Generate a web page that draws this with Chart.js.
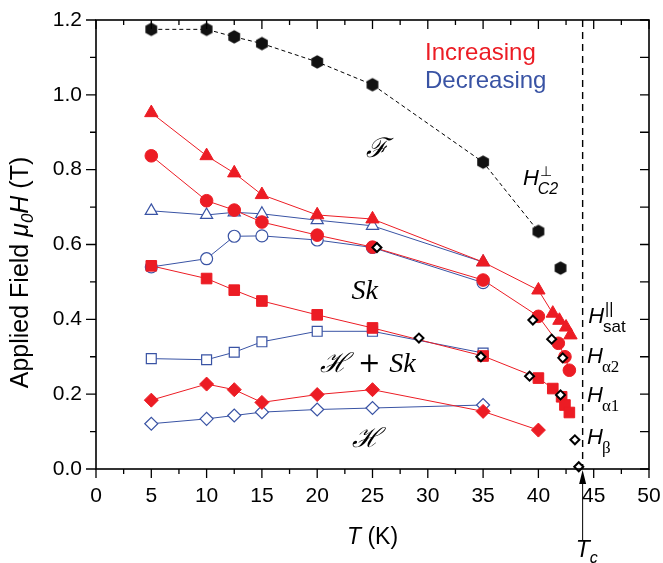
<!DOCTYPE html>
<html>
<head>
<meta charset="utf-8">
<script src="https://cdn.jsdelivr.net/npm/chart.js"></script>
<style>
  html, body { margin: 0; padding: 0; background: #fff; }
</style>
</head>
<body>
<canvas id="myChart" width="663" height="563"></canvas>
<script>
// ---- data (T in K, field in T) ----
const xTicks = [0, 5, 10, 15, 20, 25, 30, 35, 40, 45, 50];
const yTicks = [0.0, 0.2, 0.4, 0.6, 0.8, 1.0, 1.2];

const hc2T = [5, 10, 12.5, 15, 20, 25, 35, 40];
const hc2H = [1.175, 1.175, 1.155, 1.137, 1.088, 1.027, 0.820, 0.635];
const hc2ExtraT = [42];
const hc2ExtraH = [0.537];

const satIncT = [5, 10, 12.5, 15, 20, 25, 35, 40, 41.3, 41.9, 42.5, 42.9];
const satIncH = [0.952, 0.837, 0.791, 0.733, 0.679, 0.668, 0.553, 0.478, 0.416, 0.397, 0.379, 0.358];
const satDecT = [5, 10, 12.5, 15, 20, 25, 35];
const satDecH = [0.690, 0.679, 0.686, 0.682, 0.665, 0.650, 0.553];

const a2IncT = [5, 10, 12.5, 15, 20, 25, 35, 40, 41.8, 42.4, 42.8];
const a2IncH = [0.837, 0.717, 0.692, 0.660, 0.625, 0.593, 0.505, 0.408, 0.336, 0.300, 0.264];
const a2DecT = [5, 10, 12.5, 15, 20, 25, 35];
const a2DecH = [0.540, 0.562, 0.622, 0.623, 0.612, 0.592, 0.498];

const a1IncT = [5, 10, 12.5, 15, 20, 25, 35, 40, 41.3, 42.1, 42.4, 42.8];
const a1IncH = [0.543, 0.509, 0.478, 0.449, 0.412, 0.377, 0.302, 0.243, 0.215, 0.193, 0.171, 0.151];
const a1DecT = [5, 10, 12.5, 15, 20, 25, 35];
const a1DecH = [0.295, 0.292, 0.312, 0.340, 0.368, 0.368, 0.310];

const bIncT = [5, 10, 12.5, 15, 20, 25, 35, 40];
const bIncH = [0.184, 0.227, 0.212, 0.178, 0.199, 0.212, 0.154, 0.104];
const bDecT = [5, 10, 12.5, 15, 20, 25, 35];
const bDecH = [0.121, 0.134, 0.143, 0.152, 0.159, 0.163, 0.171];

const otherT = [25.4, 29.2, 34.8, 39.5, 41.2, 42.2, 39.2, 42.0, 43.3, 43.65];
const otherH = [0.592, 0.350, 0.300, 0.398, 0.347, 0.297, 0.248, 0.198, 0.078, 0.006];

const Tc = 44;

const red = '#ec1c24', blue = '#3953a4';
const sans = '"Liberation Sans", Arial, sans-serif';
const serif = '"Liberation Serif", "Times New Roman", serif';

function pts(xs, ys) { return xs.map((x, i) => ({ x: x, y: ys[i] })); }

function hexagon(r, color) {
  const s = Math.ceil(2 * r + 2);
  const c = document.createElement('canvas');
  c.width = s; c.height = s;
  const g = c.getContext('2d');
  g.beginPath();
  for (let i = 0; i < 6; i++) {
    const a = Math.PI / 3 * i - Math.PI / 2;
    const px = s / 2 + r * Math.cos(a), py = s / 2 + r * Math.sin(a);
    if (i) g.lineTo(px, py); else g.moveTo(px, py);
  }
  g.closePath();
  g.fillStyle = color;
  g.fill();
  return c;
}
const hex = hexagon(6.8, '#111');

function redSet(xs, ys, style, r) {
  return { data: pts(xs, ys), showLine: true, borderColor: red, borderWidth: 1,
    pointStyle: style, pointRadius: r, pointBackgroundColor: red, pointBorderColor: red,
    pointBorderWidth: 1, order: 2 };
}
function blueSet(xs, ys, style, r) {
  return { data: pts(xs, ys), showLine: true, borderColor: blue, borderWidth: 1,
    pointStyle: style, pointRadius: r, pointBackgroundColor: '#fff', pointBorderColor: blue,
    pointBorderWidth: 1.2, order: 3 };
}

function rich(ctx, x, y, parts) {
  let cx = x;
  parts.forEach(p => {
    ctx.font = p[1];
    ctx.fillText(p[0], cx, y + (p[2] || 0));
    cx += ctx.measureText(p[0]).width;
  });
  return cx - x;
}

const decorations = {
  id: 'decorations',
  beforeDatasetsDraw(chart) {
    const ctx = chart.ctx, a = chart.chartArea, xs = chart.scales.x;
    const px = xs.getPixelForValue(Tc);
    ctx.save();
    ctx.strokeStyle = '#000';
    ctx.lineWidth = 1.4;
    ctx.setLineDash([7, 5]);
    ctx.beginPath(); ctx.moveTo(px, a.top); ctx.lineTo(px, a.bottom); ctx.stroke();
    ctx.restore();
  },
  afterDraw(chart) {
    const ctx = chart.ctx, a = chart.chartArea, xs = chart.scales.x, ys = chart.scales.y;
    const X = v => xs.getPixelForValue(v), Y = v => ys.getPixelForValue(v);
    ctx.save();
    ctx.strokeStyle = '#000';
    ctx.fillStyle = '#000';
    ctx.lineWidth = 1.3;
    ctx.setLineDash([]);
    ctx.beginPath();
    for (let k = 0; k <= 20; k++) {
      const t = k * 2.5, p = X(t), L = k % 2 === 0 ? 9 : 5;
      ctx.moveTo(p, a.bottom); ctx.lineTo(p, a.bottom + L);
      ctx.moveTo(p, a.top); ctx.lineTo(p, a.top + L);
    }
    for (let k = 0; k <= 12; k++) {
      const p = Y(k / 10), L = k % 2 === 0 ? 10 : 6;
      ctx.moveTo(a.left - L, p); ctx.lineTo(a.left, p);
      ctx.moveTo(a.right - 9, p); ctx.lineTo(a.right, p);
    }
    ctx.stroke();
    ctx.lineWidth = 1.6;
    ctx.strokeRect(a.left, a.top, a.right - a.left, a.bottom - a.top);

    // Tc arrow
    const tx = X(Tc);
    ctx.lineWidth = 1;
    ctx.beginPath(); ctx.moveTo(tx, a.bottom + 12); ctx.lineTo(tx, a.bottom + 72); ctx.stroke();
    ctx.beginPath(); ctx.moveTo(tx, a.bottom + 1); ctx.lineTo(tx - 3.5, a.bottom + 15); ctx.lineTo(tx + 3.5, a.bottom + 15); ctx.closePath(); ctx.fill();

    ctx.textAlign = 'left';
    ctx.textBaseline = 'alphabetic';
    // T_c label
    rich(ctx, tx - 7, a.bottom + 88, [['T', 'italic 23px ' + sans], ['c', 'italic 16px ' + sans, 6]]);

    // axis titles
    const xt = [['T', 'italic 23px ' + sans], [' (K)', '23px ' + sans]];
    let w = 0;
    xt.forEach(p => { ctx.font = p[1]; w += ctx.measureText(p[0]).width; });
    rich(ctx, (a.left + a.right) / 2 - w / 2, a.bottom + 75, xt);

    const yt = [['Applied Field ', '25px ' + sans], ['\u03bc', 'italic 25px ' + sans],
      ['0', 'italic 17px ' + sans, 5], ['H', 'italic 25px ' + sans], [' (T)', '25px ' + sans]];
    ctx.save();
    ctx.translate(28, (a.top + a.bottom) / 2 + 28);
    ctx.rotate(-Math.PI / 2);
    let yw = 0;
    yt.forEach(p => { ctx.font = p[1]; yw += ctx.measureText(p[0]).width; });
    rich(ctx, -yw / 2, 0, yt);
    ctx.restore();

    // legend text
    ctx.font = '24px ' + sans;
    ctx.fillStyle = red;
    ctx.fillText('Increasing', X(29.75), Y(1.093));
    ctx.fillStyle = blue;
    ctx.fillText('Decreasing', X(29.75), Y(1.018));

    // phase labels
    ctx.fillStyle = '#000';
    ctx.textAlign = 'center';
    ctx.textBaseline = 'middle';
    ctx.font = 'italic 27px "DejaVu Serif", serif';
    ctx.fillText('\u2131', X(25.4), Y(0.852));
    ctx.fillText('\u210b', X(24.5), Y(0.077));
    ctx.font = 'italic 28px ' + serif;
    ctx.fillText('Sk', X(24.3), Y(0.473));
    ctx.font = 'italic 27px "DejaVu Serif", serif';
    const p1 = '\u210b + ';
    ctx.textAlign = 'left';
    const w1 = ctx.measureText(p1).width;
    ctx.font = 'italic 28px ' + serif;
    const w2 = ctx.measureText('Sk').width;
    const sx = X(24.6) - (w1 + w2) / 2;
    ctx.font = 'italic 27px "DejaVu Serif", serif';
    ctx.fillText(p1, sx, Y(0.278));
    ctx.font = 'italic 28px ' + serif;
    ctx.fillText('Sk', sx + w1, Y(0.278));

    // line labels
    ctx.textAlign = 'left';
    ctx.textBaseline = 'alphabetic';
    const hf = 'italic 22px ' + sans;
    function hLabel(t, h, sub, subFont, sup, supFont) {
      const x = X(t), y = Y(h);
      ctx.font = hf;
      ctx.fillText('H', x, y);
      const hw = ctx.measureText('H').width;
      if (sup) { ctx.font = supFont; ctx.fillText(sup, x + hw + 1, y - 9); }
      ctx.font = subFont;
      ctx.fillText(sub, x + hw - 1, y + 9);
    }
    hLabel(38.6, 0.759, 'C2', 'italic 16px ' + sans, '\u22a5', '14px ' + sans);
    hLabel(44.5, 0.390, 'sat', '17px ' + sans, '||', '16px ' + sans);
    hLabel(44.4, 0.283, '\u03b12', '17px ' + serif);
    hLabel(44.4, 0.179, '\u03b11', '17px ' + serif);
    hLabel(44.4, 0.066, '\u03b2', '17px ' + serif);
    ctx.restore();
  }
};

new Chart(document.getElementById('myChart'), {
  type: 'scatter',
  data: {
    datasets: [
      { data: pts(otherT, otherH), showLine: false, pointStyle: 'rectRot', pointRadius: 4.5,
        pointBackgroundColor: '#fff', pointBorderColor: '#000', pointBorderWidth: 2, order: 0, clip: false },
      redSet(satIncT, satIncH, 'triangle', 7.7),
      redSet(a2IncT, a2IncH, 'circle', 6.3),
      redSet(a1IncT, a1IncH, 'rect', 7.5),
      redSet(bIncT, bIncH, 'rectRot', 7),
      blueSet(satDecT, satDecH, 'triangle', 7),
      blueSet(a2DecT, a2DecH, 'circle', 6),
      blueSet(a1DecT, a1DecH, 'rect', 7),
      blueSet(bDecT, bDecH, 'rectRot', 6.5),
      { data: pts(hc2T, hc2H), showLine: true, borderColor: '#000', borderWidth: 1, borderDash: [4, 3],
        pointStyle: hex, order: 4 },
      { data: pts(hc2ExtraT, hc2ExtraH), showLine: false, pointStyle: hex, order: 4 }
    ]
  },
  options: {
    responsive: false,
    animation: false,
    devicePixelRatio: 1,
    layout: { padding: { top: 20, right: 14, left: 0, bottom: 0 } },
    plugins: { legend: { display: false }, tooltip: { enabled: false } },
    scales: {
      x: {
        type: 'linear', min: 0, max: 50,
        afterBuildTicks: s => { s.ticks = xTicks.map(v => ({ value: v })); },
        ticks: { color: '#000', font: { family: sans, size: 21 }, padding: 15, maxRotation: 0 },
        grid: { display: false, drawTicks: false },
        border: { display: false },
        afterFit: s => { s.height = 94; s.paddingLeft = 0; s.paddingRight = 0; }
      },
      y: {
        type: 'linear', min: 0, max: 1.2,
        afterBuildTicks: s => { s.ticks = yTicks.map(v => ({ value: v })); },
        ticks: { color: '#000', font: { family: sans, size: 21 }, padding: 14,
          callback: v => v.toFixed(1) },
        grid: { display: false, drawTicks: false },
        border: { display: false },
        afterFit: s => { s.width = 96; s.paddingTop = 0; s.paddingBottom = 0; }
      }
    }
  },
  plugins: [decorations]
});
</script>
</body>
</html>
